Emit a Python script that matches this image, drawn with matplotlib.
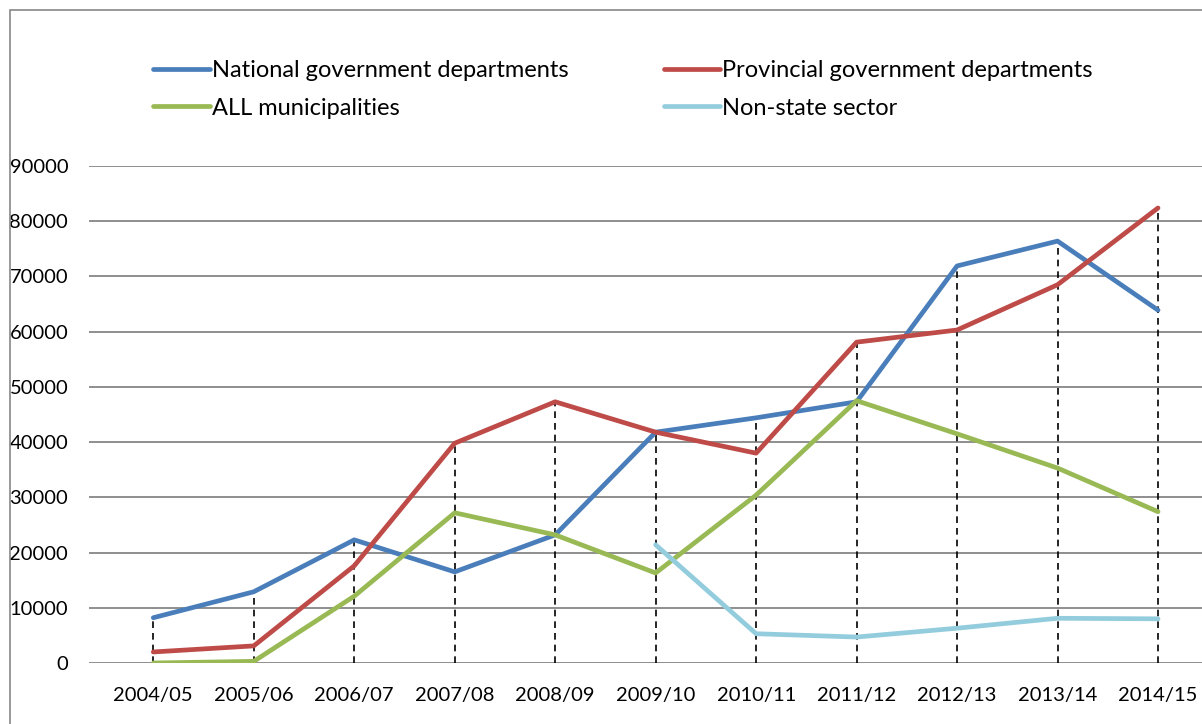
import matplotlib
matplotlib.use("Agg")
import matplotlib.pyplot as plt
from matplotlib.patches import Rectangle

plt.rcParams['font.family'] = ['Lato', 'DejaVu Sans']

# data
years = ['2004/05', '2005/06', '2006/07', '2007/08', '2008/09', '2009/10',
         '2010/11', '2011/12', '2012/13', '2013/14', '2014/15']
national = [8200, 12900, 22300, 16500, 23200, 41800, 44400, 47300, 71900, 76400, 63900]
provincial = [2000, 3100, 17600, 39800, 47300, 41800, 38000, 58100, 60300, 68500, 82400]
municipal = [0, 300, 12100, 27200, 23200, 16300, 30400, 47500, 41500, 35300, 27400]
non_state = [None, None, None, None, None, 21400, 5300, 4700, 6300, 8100, 8000]

labels = ['National government departments', 'Provincial government departments',
          'ALL municipalities', 'Non-state sector']
colors = ['#4A7EBB', '#BE4B48', '#98B954', '#93CDDD']

fig = plt.figure(figsize=(12.02, 7.24), dpi=100)
ax = fig.add_axes([89/1202, 1 - 663/724, 1 - 89/1202, (663 - 166)/724])

x = list(range(len(years)))

# drop lines from the highest series down to the axis
for i in x:
    vals = [s[i] for s in (national, provincial, municipal, non_state) if s[i] is not None]
    ax.plot([i, i], [0, max(vals)], color='black', lw=1.2, ls=(0, (4, 3)), zorder=2)

series = [national, provincial, municipal, non_state]
handles = []
for s, lab, c in zip(series, labels, colors):
    xs = [i for i in x if s[i] is not None]
    ys = [s[i] for i in xs]
    h, = ax.plot(xs, ys, color=c, lw=3.4, label=lab, zorder=3, solid_capstyle='round')
    handles.append(h)

ax.set_ylim(0, 90000)
ax.set_yticks(range(0, 90001, 10000))
ax.set_xlim(-0.64, (1202 - 153) / 100.5)
ax.set_xticks(x)
ax.set_xticklabels(years)
ax.yaxis.grid(True, color='#868686', lw=1.3)
ax.set_axisbelow(True)
for sp in ax.spines.values():
    sp.set_visible(False)
ax.tick_params(axis='both', length=0, labelsize=14.5)
ax.tick_params(axis='y', pad=15)
ax.tick_params(axis='x', pad=17)

# legend fills row by row, so order handles for column-major layout
order = [0, 2, 1, 3]
leg = fig.legend(handles=[handles[k] for k in order], loc='upper left',
                 bbox_to_anchor=(153/1202, 1 - 60/724),
                 ncol=2, frameon=False, fontsize=17, handlelength=2.4, handletextpad=0.08,
                 columnspacing=4.05, labelspacing=0.7, borderaxespad=0, borderpad=0)

# outer chart frame
fig.patches.append(Rectangle((10/1202, -0.1), 1.2, 1 - 10/724 + 0.1, transform=fig.transFigure,
                             fill=False, ec='#888888', lw=1.2))

fig.savefig('out.png', dpi=100)
